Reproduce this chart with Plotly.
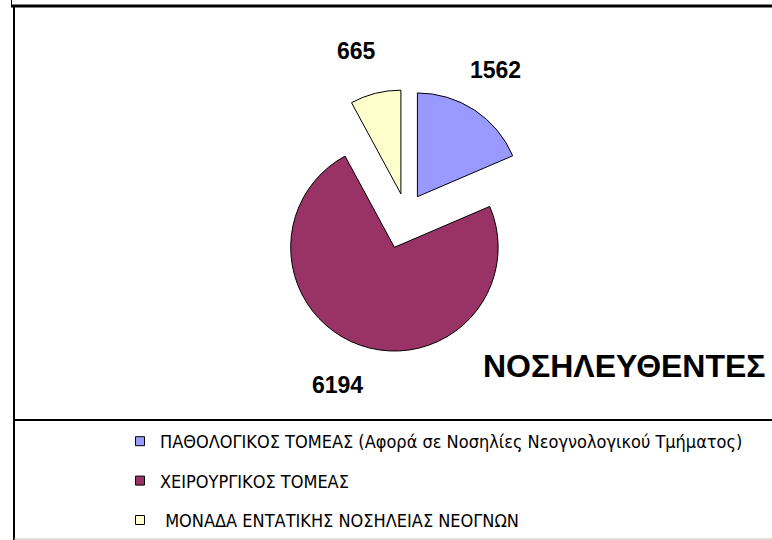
import plotly.graph_objects as go

# ---- data ----
categories = [
    "ΠΑΘΟΛΟΓΙΚΟΣ ΤΟΜΕΑΣ (Αφορά σε Νοσηλίες Νεογνολογικού Τμήματος)",
    "ΧΕΙΡΟΥΡΓΙΚΟΣ ΤΟΜΕΑΣ",
    " ΜΟΝΑΔΑ ΕΝΤΑΤΙΚΗΣ ΝΟΣΗΛΕΙΑΣ ΝΕΟΓΝΩΝ",
]
values = [1562, 6194, 665]
colors = ["#9999FF", "#993366", "#FFFFCC"]
pulls = [0.2, 0.34, 0.2]
title_text = "ΝΟΣΗΛΕΥΘΕΝΤΕΣ"

W, H = 772, 540
COND = "DejaVu Sans Condensed, sans-serif"
ARIAL = "Liberation Sans, Arial, sans-serif"


def px(x):
    return x / W


def py(y):
    return 1 - y / H


fig = go.Figure()

fig.add_trace(go.Pie(
    labels=categories,
    values=values,
    sort=False,
    direction="clockwise",
    rotation=0,
    pull=pulls,
    marker=dict(colors=colors, line=dict(color="black", width=1)),
    textinfo="none",
    hoverinfo="label+value",
    showlegend=False,
    domain=dict(x=[px(267), px(545)], y=[py(353), py(75)]),
))

# legend entries (one per category)
for cat, col in zip(categories, colors):
    fig.add_trace(go.Scatter(
        x=[None], y=[None], mode="markers", name=cat, legendgroup=cat,
        marker=dict(symbol="square", size=9, color=col,
                    line=dict(color="black", width=1)),
        showlegend=True, hoverinfo="skip",
    ))

# value labels
label_pos = [(496, 70), (337, 385), (356, 51)]
annotations = []
for v, (lx, ly) in zip(values, label_pos):
    annotations.append(dict(
        x=px(lx), y=py(ly), xref="paper", yref="paper",
        text=f"<b>{v}</b>", showarrow=False,
        font=dict(family=ARIAL, size=23, color="black"),
        xanchor="center", yanchor="middle",
    ))
annotations.append(dict(
    x=px(624), y=py(366), xref="paper", yref="paper",
    text=f"<b>{title_text}</b>", showarrow=False,
    font=dict(family=ARIAL, size=32, color="black"),
    xanchor="center", yanchor="middle",
))

shapes = [
    # top border
    dict(type="line", xref="paper", yref="paper", x0=px(11), x1=1.0, y0=py(6), y1=py(6),
         line=dict(color="black", width=3)),
    # small outer tick
    dict(type="line", xref="paper", yref="paper", x0=px(11.5), x1=px(11.5), y0=1.0, y1=py(6),
         line=dict(color="black", width=1)),
    # left border
    dict(type="line", xref="paper", yref="paper", x0=px(14), x1=px(14), y0=py(6), y1=0,
         line=dict(color="black", width=2)),
    # separator above legend
    dict(type="line", xref="paper", yref="paper", x0=px(14), x1=1.0, y0=py(420), y1=py(420),
         line=dict(color="black", width=2)),
    # bottom gray edge
    dict(type="line", xref="paper", yref="paper", x0=px(14), x1=1.0, y0=py(539), y1=py(539),
         line=dict(color="#c0c0c0", width=1)),
]

fig.update_layout(
    width=W, height=H,
    margin=dict(l=0, r=0, t=0, b=0),
    paper_bgcolor="white", plot_bgcolor="white",
    xaxis=dict(visible=False), yaxis=dict(visible=False),
    showlegend=True,
    legend=dict(
        x=px(120), y=py(423), xanchor="left", yanchor="top",
        orientation="v", traceorder="grouped", tracegroupgap=13,
        font=dict(family=COND, size=18, color="black"),
        bgcolor="rgba(0,0,0,0)", itemclick=False, itemdoubleclick=False,
    ),
    annotations=annotations,
    shapes=shapes,
)

fig.write_html(
    "out.html",
    config={"displayModeBar": False},
    post_script="document.body.style.margin='0px';",
)
